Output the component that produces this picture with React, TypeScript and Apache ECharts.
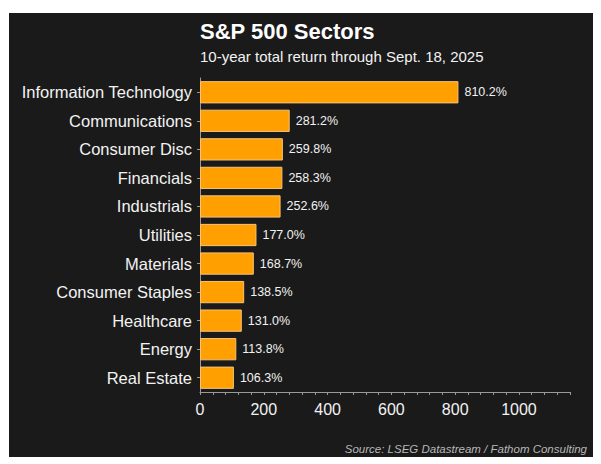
import React, { useEffect, useRef } from "react";
import * as echarts from "echarts";

const categories = [
  "Information Technology",
  "Communications",
  "Consumer Disc",
  "Financials",
  "Industrials",
  "Utilities",
  "Materials",
  "Consumer Staples",
  "Healthcare",
  "Energy",
  "Real Estate",
];
const values = [810.2, 281.2, 259.8, 258.3, 252.6, 177.0, 168.7, 138.5, 131.0, 113.8, 106.3];
const titleText = "S&P 500 Sectors";
const subtitleText = "10-year total return through Sept. 18, 2025";
const sourceText = "Source: LSEG Datastream / Fathom Consulting";

export default function App() {
  const ref = useRef<HTMLDivElement>(null);
  useEffect(() => {
    document.body.style.margin = "0";
    const chart = echarts.init(ref.current!, null, { renderer: "svg" });
    const font = "Liberation Sans, Arial, sans-serif";
    chart.setOption({
      animation: false,
      backgroundColor: "#ffffff",
      textStyle: { fontFamily: font },
      title: {
        text: titleText,
        subtext: subtitleText,
        left: 195,
        top: 15,
        itemGap: 7,
        textStyle: { color: "#ffffff", fontSize: 22, fontWeight: "bold", fontFamily: font },
        subtextStyle: { color: "#f2f2f2", fontSize: 15, fontFamily: font },
      },
      graphic: [
        {
          type: "rect",
          z: -10,
          shape: { x: 9, y: 13, width: 584, height: 444 },
          style: { fill: "#1a1a1a" },
        },
        {
          type: "text",
          right: 14,
          top: 443,
          style: {
            text: sourceText,
            fill: "#b8b8b8",
            font: `italic 11.5px ${font}`,
          },
        },
      ],
      grid: { left: 200, right: 31, top: 78, bottom: 72, containLabel: false },
      xAxis: {
        type: "value",
        min: 0,
        max: 1160,
        interval: 200,
        splitLine: { show: false },
        axisLine: { show: true, lineStyle: { color: "#9a9a9a", width: 1 } },
        axisTick: { show: true, length: 3, lineStyle: { color: "#9a9a9a" } },
        minorTick: { show: true, splitNumber: 5, length: 3, lineStyle: { color: "#9a9a9a" } },
        minorSplitLine: { show: false },
        axisLabel: {
          color: "#f2f2f2",
          fontSize: 16,
          margin: 9,
          showMaxLabel: false,
          fontFamily: font,
          formatter: (v: number) => String(v),
        },
      },
      yAxis: {
        type: "category",
        data: categories,
        inverse: true,
        axisLine: { show: true, lineStyle: { color: "#9a9a9a", width: 1 } },
        axisTick: { show: true, alignWithLabel: true, length: 3, lineStyle: { color: "#9a9a9a" } },
        axisLabel: { color: "#f2f2f2", fontSize: 16.5, margin: 8, fontFamily: font },
        splitLine: { show: false },
      },
      series: [
        {
          type: "bar",
          data: values,
          barCategoryGap: "22%",
          itemStyle: { color: "#ff9f00", borderColor: "#f7c27a", borderWidth: 1 },
          label: {
            show: true,
            position: "right",
            distance: 6,
            color: "#f2f2f2",
            fontSize: 12.5,
            fontFamily: font,
            formatter: (p: any) => `${Number(p.value).toFixed(1)}%`,
          },
        },
      ],
    });
    return () => chart.dispose();
  }, []);
  return <div ref={ref} style={{ width: 601, height: 464 }} />;
}
